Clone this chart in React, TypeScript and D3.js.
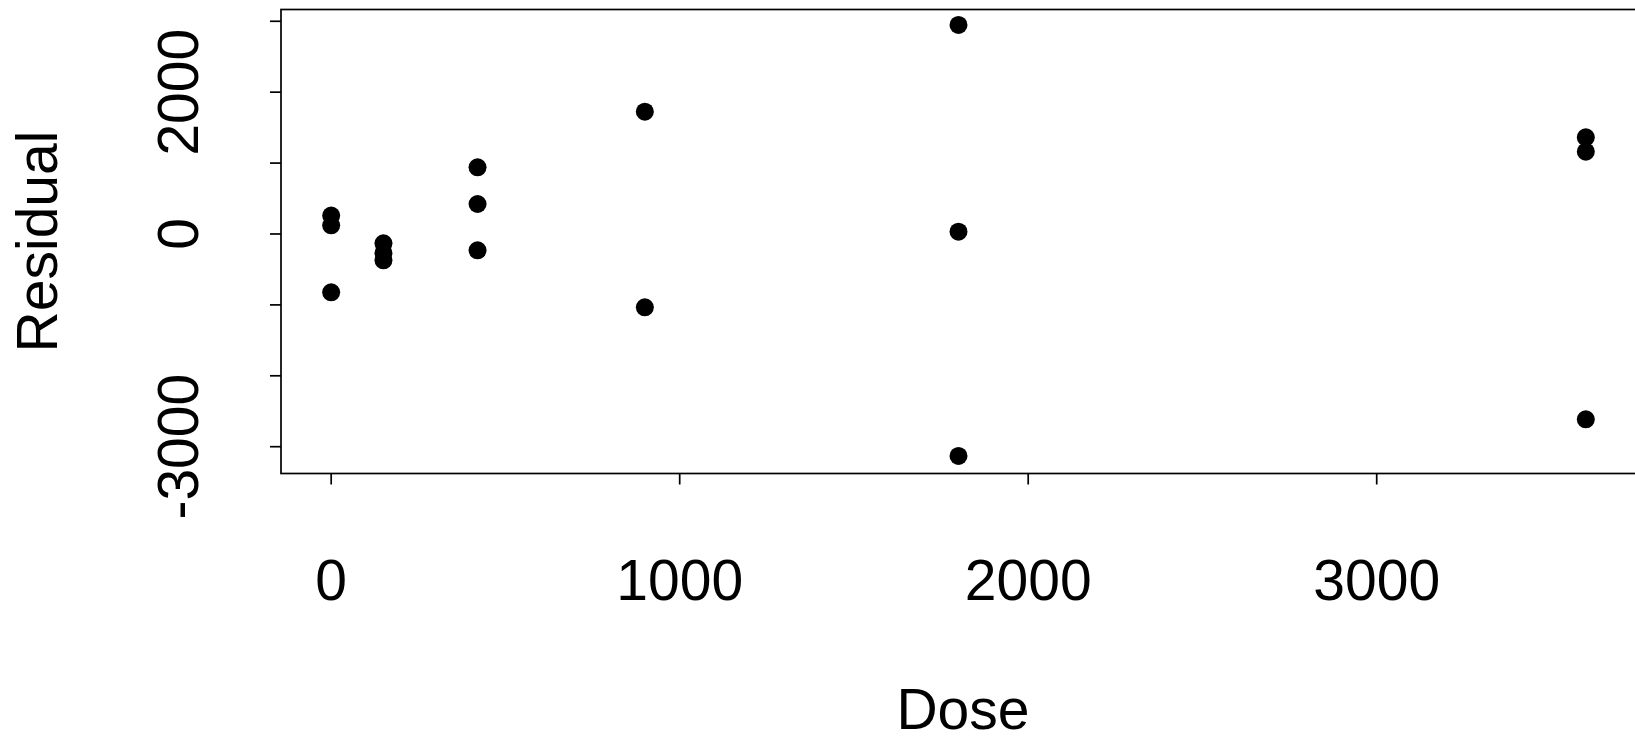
import React, { useEffect, useRef } from "react";
import * as d3 from "d3";

// dose groups and their residuals
const dose = [0, 0, 0, 150, 150, 150, 420, 420, 420, 900, 900, 1800, 1800, 1800, 3600, 3600, 3600];
const residual = [259, 123, -822, -131, -268, -371, 941, 423, -230, 1725, -1034, 2948, 33, -3131, 1364, 1161, -2614];

const xTicks = [0, 1000, 2000, 3000];
const yTicks = [-3000, -2000, -1000, 0, 1000, 2000, 3000];
const yLabels = [-3000, 0, 2000];

const xDomain = [-144, 3744];
const yDomain = [-3378, 3166];

const App = () => {
  const ref = useRef<SVGSVGElement | null>(null);

  useEffect(() => {
    const W = 1635;
    const H = 743;
    const font = "'Liberation Sans', Arial, Helvetica, sans-serif";
    const left = 281;
    const right = 1645;
    const top = 9.5;
    const bottom = 473.5;

    const svg = d3.select(ref.current);
    svg.selectAll("*").remove();
    svg.attr("width", W).attr("height", H).attr("viewBox", `0 0 ${W} ${H}`);

    svg.append("rect").attr("width", W).attr("height", H).attr("fill", "#fff");

    const x = d3.scaleLinear().domain(xDomain).range([left, 1636]);
    const y = d3.scaleLinear().domain(yDomain).range([bottom, top]);

    // box (runs past the right edge like the original)
    svg
      .append("rect")
      .attr("x", left)
      .attr("y", top)
      .attr("width", right - left)
      .attr("height", bottom - top)
      .attr("fill", "none")
      .attr("stroke", "#000")
      .attr("stroke-width", 1.7);

    // x axis ticks + labels
    svg
      .append("g")
      .selectAll("line")
      .data(xTicks)
      .join("line")
      .attr("x1", (d) => x(d))
      .attr("x2", (d) => x(d))
      .attr("y1", bottom)
      .attr("y2", bottom + 11)
      .attr("stroke", "#000")
      .attr("stroke-width", 1.7);

    svg
      .append("g")
      .selectAll("text")
      .data(xTicks)
      .join("text")
      .attr("x", (d) => x(d))
      .attr("y", 600)
      .attr("text-anchor", "middle")
      .attr("font-family", font)
      .attr("font-size", 57)
      .text((d) => d);

    // y axis ticks + labels
    svg
      .append("g")
      .selectAll("line")
      .data(yTicks)
      .join("line")
      .attr("x1", left - 11)
      .attr("x2", left)
      .attr("y1", (d) => y(d))
      .attr("y2", (d) => y(d))
      .attr("stroke", "#000")
      .attr("stroke-width", 1.7);

    svg
      .append("g")
      .selectAll("text")
      .data(yLabels)
      .join("text")
      .attr("transform", (d) => `translate(198,${y(d)}) rotate(-90)`)
      .attr("text-anchor", "middle")
      .attr("font-family", font)
      .attr("font-size", 57)
      .text((d) => d);

    // points
    svg
      .append("g")
      .selectAll("circle")
      .data(dose)
      .join("circle")
      .attr("cx", (d) => x(d))
      .attr("cy", (d, i) => y(residual[i]))
      .attr("r", 9)
      .attr("fill", "#000");

    // axis titles
    svg
      .append("text")
      .attr("x", 963)
      .attr("y", 729)
      .attr("text-anchor", "middle")
      .attr("font-family", font)
      .attr("font-size", 57)
      .text("Dose");

    svg
      .append("text")
      .attr("transform", `translate(57,${(top + bottom) / 2}) rotate(-90)`)
      .attr("text-anchor", "middle")
      .attr("font-family", font)
      .attr("font-size", 57)
      .text("Residual");
  }, []);

  return (
    <div style={{ position: "fixed", left: 0, top: 0 }}>
      <svg ref={ref} style={{ display: "block" }} />
    </div>
  );
};

export default App;
